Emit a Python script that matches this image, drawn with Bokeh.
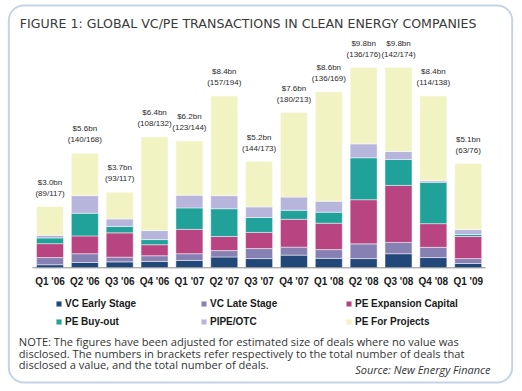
from bokeh.plotting import figure
from bokeh.models import Range1d, Label, Legend, LegendItem, BoxAnnotation, ColumnDataSource
from bokeh.core.properties import value
from bokeh.embed import file_html
from bokeh.resources import INLINE

# ---------------- data ----------------
quarters = ["Q1 '06", "Q2 '06", "Q3 '06", "Q4 '06", "Q1 '07", "Q2 '07", "Q3 '07",
            "Q4 '07", "Q1 '08", "Q2 '08", "Q3 '08", "Q4 '08", "Q1 '09"]
vc_early = [0.15, 0.26, 0.29, 0.31, 0.36, 0.53, 0.45, 0.62, 0.46, 0.45, 0.69, 0.50, 0.21]
vc_late = [0.35, 0.43, 0.23, 0.28, 0.33, 0.31, 0.49, 0.39, 0.43, 0.72, 0.55, 0.50, 0.24]
pe_expansion = [0.68, 0.87, 1.19, 0.54, 1.19, 0.69, 0.79, 1.36, 1.29, 2.16, 2.79, 1.16, 1.08]
pe_buyout = [0.28, 1.11, 0.31, 0.25, 1.05, 1.36, 0.73, 0.44, 0.54, 2.05, 1.27, 2.02, 0.10]
pipe_otc = [0.13, 0.86, 0.37, 0.44, 0.62, 0.64, 0.52, 0.65, 0.54, 0.68, 0.39, 0.08, 0.24]
pe_projects = [1.41, 2.07, 1.31, 4.58, 2.65, 4.87, 2.22, 4.14, 5.34, 3.74, 4.11, 4.14, 3.23]
totals_bn = [3.0, 5.6, 3.7, 6.4, 6.2, 8.4, 5.2, 7.6, 8.6, 9.8, 9.8, 8.4, 5.1]
deals_disclosed = [89, 140, 93, 108, 123, 157, 144, 180, 136, 136, 142, 114, 63]
deals_total = [117, 168, 117, 132, 144, 194, 173, 213, 169, 176, 174, 138, 76]

series_names = ["VC Early Stage", "VC Late Stage", "PE Expansion Capital",
                "PE Buy-out", "PIPE/OTC", "PE For Projects"]
series_keys = ["vc_early", "vc_late", "pe_expansion", "pe_buyout", "pipe_otc", "pe_projects"]
colors = ["#22487a", "#8781b3", "#b84482", "#20a199", "#b8b5dd", "#f1f3c3"]

title_text = "FIGURE 1: GLOBAL VC/PE TRANSACTIONS IN CLEAN ENERGY COMPANIES"
note_lines = ["NOTE: The figures have been adjusted for estimated size of deals where no value was",
              "disclosed. The numbers in brackets refer respectively to the total number of deals that",
              "disclosed a value, and the total number of deals."]
source_text = "Source: New Energy Finance"

# ---------------- layout ----------------
W, H = 522, 391
PX_PER_CAT = 34.85
PX_PER_BN = 20.45
X0_PX = 49.5          # pixel of first category centre
BASE_PX = 267.3       # pixel (from top) of baseline
xs = -X0_PX / PX_PER_CAT
xe = xs + W / PX_PER_CAT
ye = BASE_PX / PX_PER_BN
ys = ye - H / PX_PER_BN


def dx(px):
    return xs + px / PX_PER_CAT


def dy(py):
    return ye - py / PX_PER_BN


p = figure(width=W, height=H, output_backend="svg", toolbar_location=None,
           x_range=Range1d(xs, xe), y_range=Range1d(ys, ye),
           min_border=0, outline_line_color=None, background_fill_color="white",
           border_fill_color="white")
p.axis.visible = False
p.grid.visible = False

idx = list(range(len(quarters)))
src = ColumnDataSource(dict(x=idx, vc_early=vc_early, vc_late=vc_late,
                            pe_expansion=pe_expansion, pe_buyout=pe_buyout,
                            pipe_otc=pipe_otc, pe_projects=pe_projects))
rends = p.vbar_stack(series_keys, x="x", width=0.775, source=src, color=colors,
                     line_color="white", line_width=0.6, line_alpha=0.8)

# baseline
p.segment(x0=[-0.5], x1=[len(quarters) - 0.5], y0=[0], y1=[0], line_color="#8a8a8a", line_width=1)

# category labels
p.text(x=idx, y=[0] * len(idx), text=quarters, y_offset=14, text_align="center",
       text_baseline="middle", text_font=value("Liberation Sans"), text_font_size="10px",
       text_font_style="bold", text_color="#1a1a1a")

# totals above bars
stack_top = [sum(v) for v in zip(vc_early, vc_late, pe_expansion, pe_buyout, pipe_otc, pe_projects)]
lab1 = ["$%.1fbn" % t for t in totals_bn]
lab2 = ["(%d/%d)" % (a, b) for a, b in zip(deals_disclosed, deals_total)]
p.text(x=idx, y=stack_top, text=lab1, y_offset=-24.3, text_align="center",
       text_baseline="middle", text_font=value("Liberation Sans"), text_font_size="8px",
       text_color="#2a2a2a")
p.text(x=idx, y=stack_top, text=lab2, y_offset=-13.3, text_align="center",
       text_baseline="middle", text_font=value("Liberation Sans"), text_font_size="8px",
       text_color="#2a2a2a")

# title
p.add_layout(Label(x=dx(19.3), y=dy(22.8), text=title_text, text_baseline="middle",
                   text_font="DejaVu Sans", text_font_size="12.6px", text_color="#3a3a3a"))

# note
for i, line in enumerate(note_lines):
    p.add_layout(Label(x=dx(18.3), y=dy(341 + 11.5 * i), text=line, text_baseline="middle",
                       text_font="Open Sans", text_font_size="11.1px", text_color="#333333"))
p.add_layout(Label(x=dx(490), y=dy(369.3), text=source_text, text_baseline="middle",
                   text_align="right", text_font="Open Sans", text_font_style="italic",
                   text_font_size="11px", text_color="#333333"))

# legend
legend = Legend(items=[LegendItem(label=n, renderers=[r]) for n, r in zip(series_names, rends)],
                location=(55, 62.8), orientation="horizontal", ncols=3,
                glyph_width=7, glyph_height=7, label_standoff=3, label_width=130,
                label_height=13, spacing=5, padding=0, margin=0,
                border_line_color=None, background_fill_alpha=0,
                label_text_font="Liberation Sans", label_text_font_size="10px",
                label_text_font_style="bold", label_text_color="#1a1a1a")
p.add_layout(legend)

# rounded frame
p.add_layout(BoxAnnotation(left=dx(8.3), right=dx(511.7), top=dy(5), bottom=dy(382),
                           fill_alpha=0, line_color="#3d6db4", line_width=2,
                           border_radius=15))

open("out.html", "w").write(file_html(p, INLINE))
